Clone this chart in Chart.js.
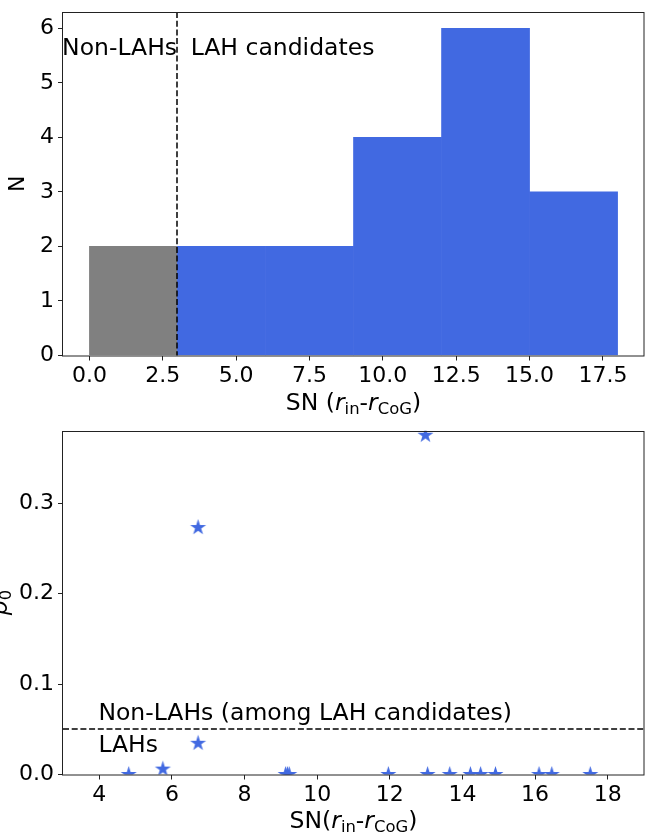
<!DOCTYPE html>
<html><head><meta charset="utf-8">
<script src="https://cdn.jsdelivr.net/npm/chart.js@4.4.0/dist/chart.umd.min.js"></script>
<style>
html,body{margin:0;padding:0;background:#fff;}
#wrap{position:relative;width:645px;height:834px;overflow:hidden;background:#fff;}
#c1{position:absolute;left:0;top:0;}
#c2{position:absolute;left:0;top:420px;}
</style></head><body>
<div id="wrap"><canvas id="c1" width="645" height="420"></canvas><canvas id="c2" width="645" height="414"></canvas></div>
<script>
// ---------- data ----------
const binEdges = [0, 3, 6, 9, 12, 15, 18];
const binCounts = [2, 2, 2, 4, 6, 3];
const binGroups = ['non', 'lah', 'lah', 'lah', 'lah', 'lah'];
const histXTicks = [0, 2.5, 5, 7.5, 10, 12.5, 15, 17.5];
const histYTicks = [0, 1, 2, 3, 4, 5, 6];
const snThreshold = 3;

const candSN = [4.81, 5.75, 6.72, 6.72, 9.13, 9.18, 9.23, 11.96, 12.98, 13.04, 13.65, 14.22, 14.50, 14.91, 16.11, 16.46, 17.52];
const candP0 = [0, 0.006, 0.273, 0.0345, 0, 0, 0, 0, 0.375, 0, 0, 0, 0, 0, 0, 0, 0];
const p0XTicks = [4, 6, 8, 10, 12, 14, 16, 18];
const p0YTicks = [0, 0.1, 0.2, 0.3];
const p0Threshold = 0.05;

// ---------- styles ----------
const BLUE = '#4169E1', GRAY = '#808080', INK = '#000';
const FONT = 'DejaVu Sans';
const FS = 22;     // tick labels
const FT = 23.5;   // titles and annotations

function makeStar(R, color) {
  const s = Math.ceil(2 * R + 2);
  const c = document.createElement('canvas');
  c.width = s; c.height = s;
  const g = c.getContext('2d');
  g.fillStyle = color;
  g.beginPath();
  const r = R * 0.381966;
  for (let i = 0; i < 10; i++) {
    const a = -Math.PI / 2 + i * Math.PI / 5;
    const rr = (i % 2) ? r : R;
    g.lineTo(s / 2 + rr * Math.cos(a), s / 2 + rr * Math.sin(a));
  }
  g.closePath(); g.fill();
  return c;
}
const starImg = makeStar(8.4, BLUE);

function richText(ctx, parts, cx, y, size) {
  const fontOf = p => {
    const sz = p[1] === 'sub' ? size * 0.7 : size;
    const it = p[1] === 'i' ? 'italic ' : '';
    return it + sz + 'px "' + FONT + '"';
  };
  let total = 0;
  parts.forEach(p => { ctx.font = fontOf(p); total += ctx.measureText(p[0]).width; });
  let x = cx - total / 2;
  ctx.textAlign = 'left'; ctx.textBaseline = 'alphabetic'; ctx.fillStyle = INK;
  parts.forEach(p => {
    ctx.font = fontOf(p);
    const dy = p[1] === 'sub' ? size * 0.16 : 0;
    ctx.fillText(p[0], x, y + dy);
    x += ctx.measureText(p[0]).width;
  });
}
function rotText(ctx, parts, x, cy, size) {
  ctx.save(); ctx.translate(x, cy); ctx.rotate(-Math.PI / 2);
  richText(ctx, parts, 0, 0, size);
  ctx.restore();
}
function frame(ctx, a) {
  ctx.save();
  ctx.strokeStyle = '#222'; ctx.lineWidth = 1; ctx.setLineDash([]);
  ctx.strokeRect(Math.round(a.left) - 0.5, Math.round(a.top) + 0.5, Math.round(a.right - a.left) + 0.5, Math.round(a.bottom - a.top) - 0.5);
  ctx.restore();
}
function fixedTicks(arr) { return s => { s.ticks = arr.map(v => ({ value: v })); }; }
function fitX(h) { return s => { s.height = h; s.paddingLeft = 0; s.paddingRight = 0; s.paddingTop = 0; s.paddingBottom = 0; }; }
function fitY(w) { return s => { s.width = w; s.paddingLeft = 0; s.paddingRight = 0; s.paddingTop = 0; s.paddingBottom = 0; }; }

const tickCommon = { color: INK, font: { family: FONT, size: FS } };
const gridCommon = { offset: false, drawOnChartArea: false, drawTicks: true, tickLength: 5, tickWidth: 1, tickColor: '#222', color: '#222' };

// ---------- chart 1 : histogram ----------
const histPts = binCounts.map((n, i) => ({ x: (binEdges[i] + binEdges[i + 1]) / 2, y: n }));
const histColors = binGroups.map(g => g === 'non' ? GRAY : BLUE);

new Chart(document.getElementById('c1'), {
  type: 'bar',
  data: { datasets: [{ data: histPts, backgroundColor: histColors, borderWidth: 0, barThickness: 'flex', barPercentage: 1, categoryPercentage: 1, clip: 0 }] },
  options: {
    responsive: false, animation: false, devicePixelRatio: 1,
    layout: { autoPadding: false, padding: { top: 12, right: 1, left: 0, bottom: 0 } },
    plugins: { legend: { display: false }, tooltip: { enabled: false } },
    scales: {
      x: {
        type: 'linear', min: -0.9, max: 18.9, offset: false,
        afterBuildTicks: fixedTicks(histXTicks),
        afterFit: fitX(64.5),
        ticks: Object.assign({ padding: 3, maxRotation: 0, autoSkip: false, callback: v => v.toFixed(1) }, tickCommon),
        grid: gridCommon, border: { display: false }
      },
      y: {
        type: 'linear', min: 0, max: 6.3,
        afterBuildTicks: fixedTicks(histYTicks),
        afterFit: fitY(63),
        ticks: Object.assign({ padding: 4, callback: v => String(v) }, tickCommon),
        grid: gridCommon, border: { display: false }
      }
    }
  },
  plugins: [{
    id: 'extras1',
    afterDatasetsDraw(chart) {
      const { ctx, chartArea: a, scales: { x, y } } = chart;
      ctx.save();
      const px = Math.round(x.getPixelForValue(snThreshold));
      ctx.strokeStyle = '#000'; ctx.lineWidth = 1.5; ctx.setLineDash([6, 2.7]);
      ctx.beginPath(); ctx.moveTo(px, a.top); ctx.lineTo(px, a.bottom); ctx.stroke();
      ctx.setLineDash([]);
      ctx.fillStyle = INK; ctx.font = FT + 'px "' + FONT + '"'; ctx.textAlign = 'left'; ctx.textBaseline = 'alphabetic';
      ctx.fillText('Non-LAHs', x.getPixelForValue(-0.93), y.getPixelForValue(5.51));
      ctx.fillText('LAH candidates', x.getPixelForValue(3.45), y.getPixelForValue(5.51));
      ctx.restore();
      frame(ctx, a);
    },
    afterDraw(chart) {
      const ctx = chart.ctx;
      richText(ctx, [['SN (', 'n'], ['r', 'i'], ['in', 'sub'], ['-', 'n'], ['r', 'i'], ['CoG', 'sub'], [')', 'n']], (chart.chartArea.left + chart.chartArea.right) / 2, 410, FT);
      rotText(ctx, [['N', 'n']], 24, (chart.chartArea.top + chart.chartArea.bottom) / 2, FS);
    }
  }]
});

// ---------- chart 2 : p0 vs SN ----------
const scatPts = candSN.map((sn, i) => ({ x: sn, y: candP0[i] }));

new Chart(document.getElementById('c2'), {
  type: 'scatter',
  data: { datasets: [{ data: scatPts, pointStyle: starImg, pointRadius: 8, clip: 0, backgroundColor: BLUE, borderColor: BLUE }] },
  options: {
    responsive: false, animation: false, devicePixelRatio: 1,
    layout: { autoPadding: false, padding: { top: 10.7, right: 1, left: 0, bottom: 0 } },
    plugins: { legend: { display: false }, tooltip: { enabled: false } },
    scales: {
      x: {
        type: 'linear', min: 3, max: 19,
        afterBuildTicks: fixedTicks(p0XTicks),
        afterFit: fitX(59.5),
        ticks: Object.assign({ padding: 3, maxRotation: 0, autoSkip: false, callback: v => String(v) }, tickCommon),
        grid: gridCommon, border: { display: false }
      },
      y: {
        type: 'linear', min: 0, max: 0.38,
        afterBuildTicks: fixedTicks(p0YTicks),
        afterFit: fitY(63),
        ticks: Object.assign({ padding: 4, callback: v => v.toFixed(1) }, tickCommon),
        grid: gridCommon, border: { display: false }
      }
    }
  },
  plugins: [{
    id: 'extras2',
    beforeDatasetsDraw(chart) {
      const { ctx, chartArea: a, scales: { x, y } } = chart;
      ctx.save();
      const py = Math.round(y.getPixelForValue(p0Threshold));
      ctx.strokeStyle = '#000'; ctx.lineWidth = 1.5; ctx.setLineDash([6, 2.7]);
      ctx.beginPath(); ctx.moveTo(a.left, py); ctx.lineTo(a.right, py); ctx.stroke();
      ctx.setLineDash([]);
      ctx.fillStyle = INK; ctx.font = FT + 'px "' + FONT + '"'; ctx.textAlign = 'left'; ctx.textBaseline = 'alphabetic';
      ctx.fillText('Non-LAHs (among LAH candidates)', x.getPixelForValue(3.975), y.getPixelForValue(0.0602));
      ctx.fillText('LAHs', x.getPixelForValue(3.975), y.getPixelForValue(0.0252));
      ctx.restore();
    },
    afterDatasetsDraw(chart) { frame(chart.ctx, chart.chartArea); },
    afterDraw(chart) {
      const ctx = chart.ctx;
      richText(ctx, [['SN(', 'n'], ['r', 'i'], ['in', 'sub'], ['-', 'n'], ['r', 'i'], ['CoG', 'sub'], [')', 'n']], (chart.chartArea.left + chart.chartArea.right) / 2, 408.3, FT);
      rotText(ctx, [['p', 'i'], ['0', 'sub']], 7, (chart.chartArea.top + chart.chartArea.bottom) / 2, FT);
    }
  }]
});
</script>
</body></html>
